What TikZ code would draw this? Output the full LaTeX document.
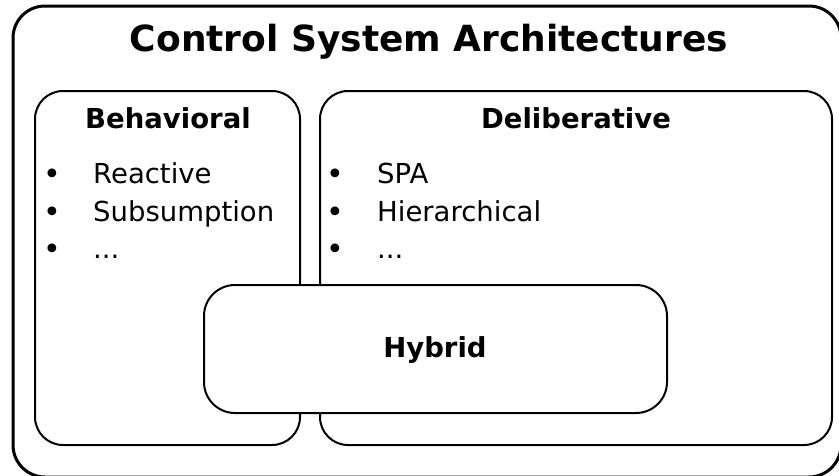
\documentclass[tikz,border=0pt]{standalone}
\usepackage{fontspec}
\setmainfont{DejaVu Sans}
\begin{document}
\begin{tikzpicture}[x=1pt,y=-1pt,
  frame/.style={draw=black, line width=3pt, rounded corners=32pt, inner sep=0pt},
  panel/.style={draw=black, line width=2pt, fill=white, rounded corners=28pt, inner sep=0pt},
  heading/.style={anchor=base, inner sep=0pt, font=\fontsize{27.5}{33}\selectfont\bfseries},
  bigheading/.style={anchor=base, inner sep=0pt, font=\fontsize{36}{43}\selectfont\bfseries},
  item/.style={anchor=base west, inner sep=0pt, font=\fontsize{27.5}{33}\selectfont},
  dot/.style={anchor=base, inner sep=0pt, font=\fontsize{30}{36}\selectfont}]
\useasboundingbox (0,0) rectangle (839,475);
% outer frame, running past the page edge on the right and bottom
\begin{scope}
  \clip (0,0) rectangle (839,475);
  \node[frame, minimum width=828pt, minimum height=471pt] (outer) at (427,241.5) {};
\end{scope}
\node[bigheading] (title) at (429,51) {Control System Architectures};

% the two families
\node[panel, minimum width=265pt, minimum height=354pt] (beh) at (167.5,268) {};
\node[panel, minimum width=512pt, minimum height=354pt] (del) at (576,268) {};

\node[heading] (behT) at (168,128) {Behavioral};
\node[heading] (delT) at (576,128) {Deliberative};

% behavioral list
\node[dot] (b1) at (52,184) {•};
\node[dot] (b2) at (52,222) {•};
\node[dot] (b3) at (52,259) {•};
\node[item] (bi1) at (93,183) {Reactive};
\node[item] (bi2) at (93,221) {Subsumption};
\node[item] (bi3) at (93,258) {...};

% deliberative list
\node[dot] (d1) at (335,184) {•};
\node[dot] (d2) at (335,222) {•};
\node[dot] (d3) at (335,259) {•};
\node[item] (di1) at (377,183) {SPA};
\node[item] (di2) at (377,221) {Hierarchical};
\node[item] (di3) at (377,258) {...};

% hybrid sits across both
\node[panel, rounded corners=31pt, minimum width=463pt, minimum height=128pt] (hyb) at (435.5,349) {};
\node[heading] (hybT) at (435,357) {Hybrid};
\end{tikzpicture}
\end{document}
